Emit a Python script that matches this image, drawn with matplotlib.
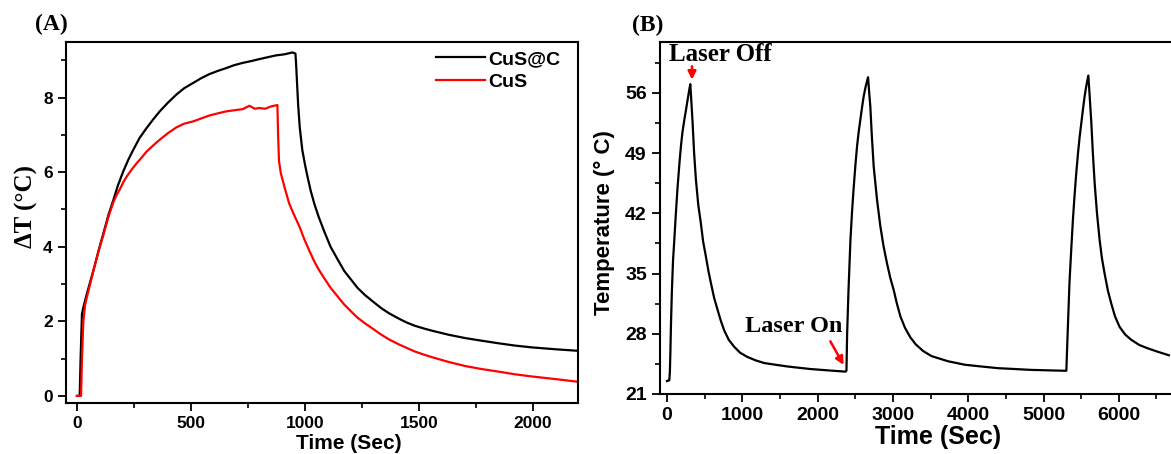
import matplotlib.pyplot as plt
from matplotlib.ticker import MultipleLocator

# Panel A: photothermal heating / cooling, delta T vs time
time_cusc = [0, 12, 16, 22, 29, 44, 60, 73, 95, 116, 138, 160, 180, 203, 225, 247, 275, 305,
             335, 363, 400, 436, 470, 509, 545, 581, 620, 654, 690, 727, 765, 799, 835, 872,
             910, 945, 958, 961, 965, 970, 977, 988, 1000, 1012, 1025, 1041, 1060, 1085, 1112,
             1144, 1172, 1203, 1230, 1262, 1300, 1335, 1370, 1409, 1445, 1482, 1520, 1556,
             1630, 1703, 1775, 1850, 1920, 1997, 2100, 2196]
dt_cusc = [0, 0, 1.0, 2.2, 2.4, 2.75, 3.1, 3.38, 3.9, 4.36, 4.85, 5.26, 5.65, 6.02, 6.33, 6.6,
           6.92, 7.18, 7.42, 7.63, 7.87, 8.08, 8.25, 8.39, 8.52, 8.63, 8.72, 8.79, 8.87, 8.93,
           8.98, 9.03, 9.08, 9.13, 9.16, 9.21, 9.18, 8.9, 8.4, 7.8, 7.2, 6.6, 6.2, 5.85, 5.5,
           5.15, 4.8, 4.4, 4.0, 3.65, 3.35, 3.11, 2.9, 2.71, 2.52, 2.35, 2.21, 2.08, 1.97, 1.88,
           1.81, 1.75, 1.64, 1.55, 1.48, 1.41, 1.35, 1.30, 1.25, 1.21]

time_cus = [0, 18, 22, 28, 36, 44, 60, 73, 95, 116, 138, 160, 175, 189, 203, 218, 240, 262,
            285, 305, 335, 363, 400, 436, 470, 509, 545, 581, 620, 654, 690, 727, 756, 780,
            799, 825, 850, 879, 882, 886, 894, 910, 930, 950, 975, 997, 1020, 1041, 1062, 1085,
            1112, 1144, 1172, 1203, 1230, 1262, 1300, 1335, 1370, 1409, 1445, 1482, 1520, 1556,
            1630, 1703, 1775, 1850, 1920, 1997, 2100, 2196]
dt_cus = [0, 0, 1.0, 2.0, 2.45, 2.66, 3.05, 3.38, 3.88, 4.32, 4.8, 5.2, 5.4, 5.55, 5.73, 5.88,
          6.07, 6.24, 6.4, 6.55, 6.72, 6.87, 7.05, 7.2, 7.3, 7.36, 7.44, 7.52, 7.58, 7.63, 7.66,
          7.69, 7.78, 7.7, 7.72, 7.7, 7.76, 7.8, 7.0, 6.3, 5.97, 5.6, 5.17, 4.88, 4.55, 4.2, 3.88,
          3.6, 3.37, 3.15, 2.9, 2.66, 2.45, 2.26, 2.1, 1.95, 1.79, 1.64, 1.51, 1.39, 1.29, 1.19,
          1.11, 1.04, 0.91, 0.80, 0.72, 0.65, 0.58, 0.52, 0.45, 0.38]

# Panel B: three laser on/off cycles
time_cycle = [0, 30, 38, 44, 53, 65, 80, 97, 120, 141, 165, 185, 205, 229, 250, 274, 295, 309,
              320, 340, 360, 384, 415, 450, 480, 516, 550, 583, 625, 671, 715, 759, 820, 891,
              970, 1068, 1180, 1289, 1440, 1598, 1750, 1906, 2130, 2370, 2383,
              2392, 2410, 2436, 2458, 2480, 2502, 2524, 2546, 2568, 2590, 2612, 2640, 2670,
              2685, 2700, 2720, 2745, 2790, 2833, 2875, 2921, 2965, 3010, 3050, 3100, 3160,
              3230, 3300, 3400, 3513, 3734, 3955, 4170, 4397, 4620, 4839, 5060, 5281, 5303,
              5325, 5345, 5370, 5392, 5414, 5436, 5458, 5480, 5502, 5524, 5546, 5570, 5595,
              5610, 5635, 5655, 5679, 5710, 5745, 5775, 5811, 5855, 5900, 5950, 6010, 6085,
              6165, 6270, 6386, 6520, 6665]
temp_cycle = [22.5, 22.6, 23.5, 25.5, 29.2, 33.0, 36.5, 38.9, 42.3, 45.1, 47.8, 49.8, 51.4, 52.8,
              53.9, 55.2, 56.3, 57.0, 55.5, 52.5, 49.0, 45.9, 43.0, 40.8, 38.7, 37.0, 35.3, 33.9,
              32.2, 30.8, 29.5, 28.4, 27.3, 26.5, 25.8, 25.3, 24.9, 24.6, 24.4, 24.2, 24.05, 23.9,
              23.75, 23.6, 23.7,
              28.0, 33.0, 38.9, 42.3, 45.1, 47.6, 49.8, 51.5, 52.9, 54.3, 55.6, 56.8, 57.8,
              56.0, 54.4, 51.0, 47.4, 43.5, 40.5, 38.2, 36.2, 34.5, 33.1, 31.6, 30.0, 28.7,
              27.6, 26.8, 26.0, 25.4, 24.8, 24.4, 24.2, 24.0, 23.9, 23.8, 23.75, 23.7, 23.7,
              29.2, 34.0, 38.1, 41.5, 44.3, 46.8, 49.0, 50.9, 52.5, 54.1, 55.6, 56.9, 58.0,
              56.0, 52.5, 49.0, 45.5, 42.0, 38.9, 36.8, 35.0, 33.0, 31.5, 30.0, 28.8, 27.9,
              27.3, 26.7, 26.3, 25.9, 25.5]

sans = 'Liberation Sans'
serif = 'Liberation Serif'

fig = plt.figure(figsize=(11.71, 4.54), dpi=100)


def style_axes(ax, size):
    for sp in ax.spines.values():
        sp.set_linewidth(1.5)
    ax.tick_params(which='major', direction='out', length=5.5, width=1.3, pad=4,
                   labelsize=size, top=False, right=False)
    ax.tick_params(which='minor', direction='out', length=3.5, width=1.2, top=False, right=False)
    for lab in ax.get_xticklabels() + ax.get_yticklabels():
        lab.set_fontfamily(sans)
        lab.set_fontweight('bold')


# ---- Panel A ----
ax1 = fig.add_axes([0.05636, 0.11233, 0.43723, 0.79515])
ax1.plot(time_cusc, dt_cusc, color='black', lw=1.6, label='CuS@C')
ax1.plot(time_cus, dt_cus, color='red', lw=1.6, label='CuS')
ax1.set_xlim(-48, 2197)
ax1.set_ylim(-0.19, 9.49)
ax1.xaxis.set_major_locator(MultipleLocator(500))
ax1.xaxis.set_minor_locator(MultipleLocator(250))
ax1.yaxis.set_major_locator(MultipleLocator(2))
ax1.yaxis.set_minor_locator(MultipleLocator(1))
style_axes(ax1, 12.5)
ax1.set_xlabel('Time (Sec)', fontsize=15, fontweight='bold', family=sans, va='center')
ax1.xaxis.set_label_coords(0.553, -0.111)
ax1.set_ylabel('ΔT (°C)', fontsize=18, fontweight='bold', family=serif, va='center')
ax1.yaxis.set_label_coords(-0.078, 0.543)
ax1.legend(loc='upper right', bbox_to_anchor=(0.98, 0.998), frameon=False,
           prop={'family': sans, 'weight': 'bold', 'size': 14},
           handlelength=2.5, handletextpad=0.15, labelspacing=0.25, borderaxespad=0)

# ---- Panel B ----
ax2 = fig.add_axes([0.56362, 0.13216, 0.43980, 0.77533])
ax2.plot(time_cycle, temp_cycle, color='black', lw=1.6)
ax2.set_xlim(-93, 6746)
ax2.set_ylim(21, 61.9)
ax2.xaxis.set_major_locator(MultipleLocator(1000))
ax2.xaxis.set_minor_locator(MultipleLocator(500))
ax2.set_yticks([21, 28, 35, 42, 49, 56])
ax2.set_yticks([24.5, 31.5, 38.5, 45.5, 52.5, 59.5], minor=True)
style_axes(ax2, 14)
ax2.set_xlabel('Time (Sec)', fontsize=18, fontweight='bold', family=sans, va='center')
ax2.xaxis.set_label_coords(0.54, -0.122)
ax2.set_ylabel('Temperature (° C)', fontsize=16, fontweight='bold', family=sans, va='center')
ax2.yaxis.set_label_coords(-0.107, 0.486)

ax2.text(713, 60.4, 'Laser Off', fontsize=18, fontweight='bold', family=serif,
         ha='center', va='center')
ax2.annotate('', xy=(332, 57.2), xytext=(332, 59.4),
             arrowprops=dict(arrowstyle='-|>', color='red', lw=1.8, mutation_scale=12))
ax2.text(1687, 28.8, 'Laser On', fontsize=17.5, fontweight='bold', family=serif,
         ha='center', va='center')
ax2.annotate('', xy=(2364, 24.1), xytext=(2151, 27.4),
             arrowprops=dict(arrowstyle='-|>', color='red', lw=1.8, mutation_scale=12))

fig.text(0.044, 0.947, '(A)', fontsize=17, fontweight='bold', family=serif, ha='center', va='center')
fig.text(0.553, 0.945, '(B)', fontsize=17, fontweight='bold', family=serif, ha='center', va='center')

fig.savefig('out.png', dpi=100)
